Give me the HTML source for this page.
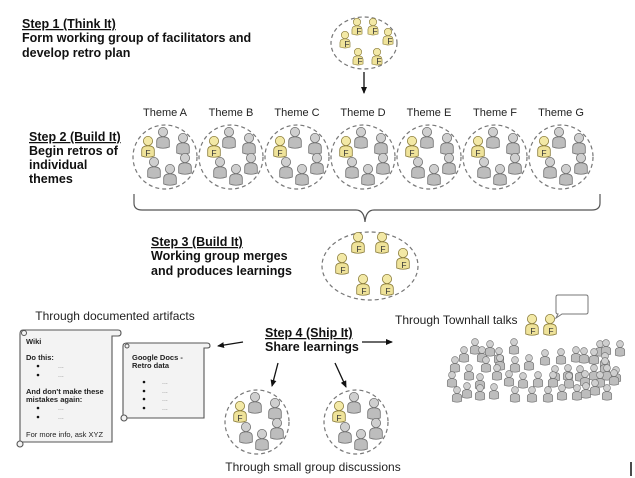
<!DOCTYPE html>
<html><head><meta charset="utf-8"><style>
html,body{margin:0;padding:0;background:#fff}
svg{display:block}
text{font-family:"Liberation Sans",Arial,sans-serif}
.b{font-weight:bold;font-size:12.5px;fill:#111}
.t{font-size:11px;fill:#222;text-anchor:middle}
.s{font-size:7.5px;font-weight:bold;fill:#222}
.dd{font-size:7px;fill:#888}
.d{fill:none;stroke:#777;stroke-width:1.2;stroke-dasharray:4 3}
.F{font-size:8.5px;fill:#333;text-anchor:middle}
.ar{stroke:#111;stroke-width:1.3;marker-end:url(#a)}
.sc{fill:#f3f3f3;stroke:#555;stroke-width:1.1}
</style></head><body>
<svg width="635" height="478" viewBox="0 0 635 478" xmlns="http://www.w3.org/2000/svg">
<defs>
<g id="g"><path d="M-6.3,15 V9.3 Q-6.3,4.8 0,4.8 Q6.3,4.8 6.3,9.3 V15 Q0,17.5 -6.3,15Z" fill="#bdbdbd" stroke="#6f6f6f" stroke-width=".8"/><circle r="4.6" fill="#cfcfcf" stroke="#6f6f6f" stroke-width=".8"/></g>
<g id="y"><path d="M-6.3,15 V9.3 Q-6.3,4.8 0,4.8 Q6.3,4.8 6.3,9.3 V15 Q0,17.5 -6.3,15Z" fill="#efe39a" stroke="#8a7c3a" stroke-width=".8"/><circle r="4.6" fill="#f3e9a6" stroke="#8a7c3a" stroke-width=".8"/></g>
<marker id="a" markerWidth="8" markerHeight="8" refX="6" refY="4" orient="auto" markerUnits="userSpaceOnUse"><path d="M0,1 L7,4 L0,7Z" fill="#111"/></marker>
<g id="th">
<circle class="d" cx="0" cy="0" r="32"/>
<use href="#y" x="-17" y="-16"/>
<use href="#g" x="-2" y="-25"/>
<use href="#g" x="18" y="-19"/>
<use href="#g" x="20" y="1"/>
<use href="#g" x="-11" y="5"/>
<use href="#g" x="5" y="12"/>
</g>
</defs>

<!-- Step 1 -->
<text class="b" x="22" y="28" text-decoration="underline">Step 1 (Think It)</text>
<text class="b" x="22" y="42">Form working group of facilitators and</text>
<text class="b" x="22" y="57">develop retro plan</text>
<ellipse class="d" cx="364" cy="43" rx="33" ry="26"/>
<use href="#y" transform="translate(357,22) scale(.8)"/><text class="F" x="359" y="34" font-size="7">F</text>
<use href="#y" transform="translate(373,22) scale(.8)"/><text class="F" x="375" y="34" font-size="7">F</text>
<use href="#y" transform="translate(388,32) scale(.8)"/><text class="F" x="390" y="44" font-size="7">F</text>
<use href="#y" transform="translate(345,35) scale(.8)"/><text class="F" x="347" y="47" font-size="7">F</text>
<use href="#y" transform="translate(358,52) scale(.8)"/><text class="F" x="360" y="64" font-size="7">F</text>
<use href="#y" transform="translate(377,52) scale(.8)"/><text class="F" x="379" y="64" font-size="7">F</text>
<line x1="364" y1="72" x2="364" y2="93" class="ar"/>

<!-- Step 2 -->
<text class="b" x="29" y="141" text-decoration="underline">Step 2 (Build It)</text>
<text class="b" x="29" y="155">Begin retros of</text>
<text class="b" x="29" y="169">individual</text>
<text class="b" x="29" y="183">themes</text>

<text class="t" x="165" y="116">Theme A</text>
<text class="t" x="231" y="116">Theme B</text>
<text class="t" x="297" y="116">Theme C</text>
<text class="t" x="363" y="116">Theme D</text>
<text class="t" x="429" y="116">Theme E</text>
<text class="t" x="495" y="116">Theme F</text>
<text class="t" x="561" y="116">Theme G</text>
<use href="#th" x="165" y="157"/><text class="F" x="148" y="156">F</text>
<use href="#th" x="231" y="157"/><text class="F" x="214" y="156">F</text>
<use href="#th" x="297" y="157"/><text class="F" x="280" y="156">F</text>
<use href="#th" x="363" y="157"/><text class="F" x="346" y="156">F</text>
<use href="#th" x="429" y="157"/><text class="F" x="412" y="156">F</text>
<use href="#th" x="495" y="157"/><text class="F" x="478" y="156">F</text>
<use href="#th" x="561" y="157"/><text class="F" x="544" y="156">F</text>

<!-- brace -->
<path d="M134,194 V203 Q134,210 142,210 H356 Q364,210 365,222 Q366,210 374,210 H592 Q600,210 600,203 V194" fill="none" stroke="#555" stroke-width="1.2"/>

<!-- Step 3 -->
<text class="b" x="151" y="246" text-decoration="underline">Step 3 (Build It)</text>
<text class="b" x="151" y="260">Working group merges</text>
<text class="b" x="151" y="275">and produces learnings</text>
<ellipse class="d" cx="370" cy="266" rx="48" ry="34"/>
<use href="#y" x="358" y="237"/><text class="F" x="359" y="252">F</text>
<use href="#y" x="382" y="237"/><text class="F" x="383" y="252">F</text>
<use href="#y" x="403" y="253"/><text class="F" x="404" y="268">F</text>
<use href="#y" x="342" y="258"/><text class="F" x="343" y="273">F</text>
<use href="#y" x="363" y="279"/><text class="F" x="364" y="294">F</text>
<use href="#y" x="387" y="279"/><text class="F" x="388" y="294">F</text>

<!-- Step 4 -->
<text class="b" x="265" y="337" text-decoration="underline">Step 4 (Ship It)</text>
<text class="b" x="265" y="351">Share learnings</text>
<line x1="243" y1="342" x2="218" y2="346" class="ar"/>
<line x1="362" y1="342" x2="392" y2="342" class="ar"/>
<line x1="278" y1="363" x2="272" y2="386" class="ar"/>
<line x1="335" y1="363" x2="346" y2="387" class="ar"/>

<use href="#th" x="257" y="422"/><text class="F" x="240" y="421">F</text>
<use href="#th" x="356" y="422"/><text class="F" x="339" y="421">F</text>
<text x="313" y="471" font-size="12" fill="#222" text-anchor="middle">Through small group discussions</text>

<!-- artifacts -->
<text x="115" y="320" font-size="12" fill="#222" text-anchor="middle">Through documented artifacts</text>
<path class="sc" d="M23,330 H118 Q121,330 121,333 Q121,336 118,336 H112 V442 H20 V334 Q20,330 23,330Z"/>
<circle cx="24" cy="333" r="2.5" fill="none" stroke="#555"/>
<circle cx="20" cy="444" r="3" class="sc"/>
<text class="s" x="26" y="344">Wiki</text>
<text class="s" x="26" y="360">Do this:</text>
<circle cx="38" cy="366" r="1.3" fill="#111"/><text class="dd" x="58" y="368">...</text>
<circle cx="38" cy="375" r="1.3" fill="#111"/><text class="dd" x="58" y="377">...</text>
<text class="s" x="26" y="394">And don't make these</text>
<text class="s" x="26" y="402">mistakes again:</text>
<circle cx="38" cy="408" r="1.3" fill="#111"/><text class="dd" x="58" y="410">...</text>
<circle cx="38" cy="417" r="1.3" fill="#111"/><text class="dd" x="58" y="419">...</text>
<text x="26" y="437" font-size="7.5" fill="#222">For more info, ask XYZ</text>

<path class="sc" d="M127,343 H207 Q210,343 210,346 Q210,348 207,348 H204 V418 H123 V346 Q123,343 127,343Z"/>
<circle cx="127" cy="346" r="2" fill="none" stroke="#555"/>
<circle cx="124" cy="418" r="3" class="sc"/>
<text class="s" x="132" y="360">Google Docs -</text>
<text class="s" x="132" y="368">Retro data</text>
<circle cx="144" cy="382" r="1.3" fill="#111"/><text class="dd" x="162" y="384">...</text>
<circle cx="144" cy="391" r="1.3" fill="#111"/><text class="dd" x="162" y="393">...</text>
<circle cx="144" cy="399" r="1.3" fill="#111"/><text class="dd" x="162" y="401">...</text>
<circle cx="144" cy="408" r="1.3" fill="#111"/><text class="dd" x="162" y="410">...</text>

<!-- townhall -->
<text x="395" y="324" font-size="12" fill="#222">Through Townhall talks</text>
<use href="#y" x="532" y="319"/><text class="F" x="533" y="334">F</text>
<use href="#y" x="550" y="319"/><text class="F" x="551" y="334">F</text>
<path d="M558,295 H586 Q588,295 588,297 V312 Q588,314 586,314 H562 L556,318 L558,314 Q556,314 556,312 V297 Q556,295 558,295Z" fill="#fff" stroke="#777" stroke-width="1"/>
<g>
<use href="#g" transform="translate(475,342) scale(.75)"/><use href="#g" transform="translate(490,344) scale(.75)"/><use href="#g" transform="translate(514,342) scale(.75)"/><use href="#g" transform="translate(600,344) scale(.75)"/><use href="#g" transform="translate(606,343) scale(.75)"/><use href="#g" transform="translate(620,344) scale(.75)"/>
<use href="#g" transform="translate(464,350) scale(.75)"/><use href="#g" transform="translate(482,350) scale(.75)"/><use href="#g" transform="translate(499,351) scale(.75)"/><use href="#g" transform="translate(545,353) scale(.75)"/><use href="#g" transform="translate(561,352) scale(.75)"/><use href="#g" transform="translate(576,350) scale(.75)"/><use href="#g" transform="translate(584,351) scale(.75)"/><use href="#g" transform="translate(594,352) scale(.75)"/><use href="#g" transform="translate(605,356) scale(.75)"/>
<use href="#g" transform="translate(455,360) scale(.75)"/><use href="#g" transform="translate(486,360) scale(.75)"/><use href="#g" transform="translate(500,358) scale(.75)"/><use href="#g" transform="translate(515,360) scale(.75)"/><use href="#g" transform="translate(529,358) scale(.75)"/><use href="#g" transform="translate(605,361) scale(.75)"/>
<use href="#g" transform="translate(469,368) scale(.75)"/><use href="#g" transform="translate(497,368) scale(.75)"/><use href="#g" transform="translate(555,369) scale(.75)"/><use href="#g" transform="translate(568,368) scale(.75)"/><use href="#g" transform="translate(580,369) scale(.75)"/><use href="#g" transform="translate(594,368) scale(.75)"/><use href="#g" transform="translate(607,368) scale(.75)"/><use href="#g" transform="translate(616,370) scale(.75)"/>
<use href="#g" transform="translate(452,375) scale(.75)"/><use href="#g" transform="translate(480,377) scale(.75)"/><use href="#g" transform="translate(509,374) scale(.75)"/><use href="#g" transform="translate(523,376) scale(.75)"/><use href="#g" transform="translate(538,375) scale(.75)"/><use href="#g" transform="translate(553,375) scale(.75)"/><use href="#g" transform="translate(569,376) scale(.75)"/><use href="#g" transform="translate(585,374) scale(.75)"/><use href="#g" transform="translate(600,375) scale(.75)"/><use href="#g" transform="translate(614,373) scale(.75)"/>
<use href="#g" transform="translate(457,390) scale(.75)"/><use href="#g" transform="translate(467,386) scale(.75)"/><use href="#g" transform="translate(480,388) scale(.75)"/><use href="#g" transform="translate(494,387) scale(.75)"/><use href="#g" transform="translate(515,390) scale(.75)"/><use href="#g" transform="translate(532,390) scale(.75)"/><use href="#g" transform="translate(548,390) scale(.75)"/><use href="#g" transform="translate(562,388) scale(.75)"/><use href="#g" transform="translate(577,388) scale(.75)"/><use href="#g" transform="translate(586,386) scale(.75)"/><use href="#g" transform="translate(595,383) scale(.75)"/><use href="#g" transform="translate(607,388) scale(.75)"/>
</g>
<line x1="631" y1="462" x2="631" y2="476" stroke="#111" stroke-width="1.5"/>
</svg>
</body></html>
